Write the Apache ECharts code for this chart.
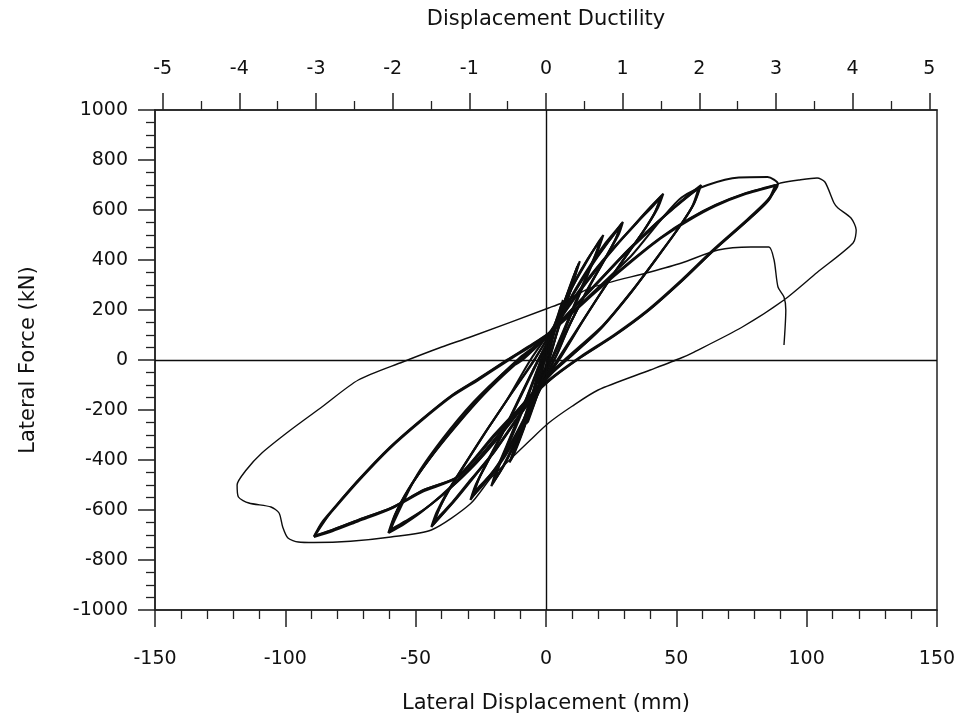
<!DOCTYPE html>
<html><head><meta charset="utf-8">
<script src="https://cdn.jsdelivr.net/npm/echarts@6/dist/echarts.min.js"></script>
<style>html,body{margin:0;padding:0;background:#fff}#c{width:969px;height:721px}</style>
</head><body><div id="c"></div>
<script>
// Tick label values
const ductilityTicks = [-5,-4,-3,-2,-1,0,1,2,3,4,5];
const ductilityMinor = [-4.5,-3.5,-2.5,-1.5,-0.5,0.5,1.5,2.5,3.5,4.5];

// Hysteresis cycles: [lateral displacement (mm), lateral force (kN)]
const cycleA1 = [[-7,-250],[-5,-190],[-2,-70],[0,20],[3,120],[6.5,240],[5,190],[2,70],[0,-20],[-3,-130],[-7,-250]];
const cycleA2 = [[-7.5,-255],[-5,-175],[-2.5,-80],[-1,0],[3,130],[6,225],[4.5,160],[1.5,40],[0,-30],[-4,-160],[-7.5,-255]];
const cycleB1 = [[-14,-410],[-11,-320],[-6,-170],[-1,-20],[0,10],[5,170],[10,320],[13,395],[10,300],[5,140],[1,0],[-4,-140],[-9,-290],[-12,-370],[-14,-410]];
const cycleB2 = [[-13.5,-400],[-10.5,-300],[-5,-130],[-2,-30],[1,50],[6,200],[10.5,330],[12.5,385],[9.5,280],[4,100],[0,-30],[-5,-170],[-10,-310],[-13.5,-400]];
const cycleB3 = [[-13,-390],[-10,-285],[-6,-160],[-3,-50],[0,35],[5,180],[9.5,300],[12,375],[9,265],[4.5,120],[1,-10],[-4,-150],[-9,-285],[-13,-390]];
const cycleC1 = [[-21,-505],[-19,-440],[-15,-340],[-9,-190],[-3,-40],[-2,0],[4,150],[10,290],[16,400],[20,470],[22,500],[20,440],[16,340],[10,190],[4,40],[2,0],[-4,-140],[-10,-290],[-15,-400],[-19,-470],[-21,-505]];
const cycleC2 = [[-20.5,-495],[-18,-420],[-14,-320],[-8,-165],[-3,-30],[0,40],[5,170],[11,310],[17,420],[21.5,490],[19,420],[15,320],[9,170],[3,20],[0,-50],[-5,-170],[-11,-310],[-16,-420],[-20.5,-495]];
const cycleC3 = [[-20,-485],[-17.5,-410],[-13,-305],[-7,-150],[-4,-60],[-1,25],[4,160],[10,295],[16,405],[21,480],[18.5,410],[14,300],[8,150],[2,0],[-1,-75],[-6,-195],[-12,-330],[-16.5,-425],[-20,-485]];
const cycleD1 = [[-29,-560],[-27,-500],[-23,-420],[-17,-300],[-10,-150],[-5,-40],[-3,0],[3,120],[10,260],[17,380],[23,470],[27,520],[29.5,552],[28,505],[24,430],[18,320],[10,160],[4,20],[3,0],[-3,-130],[-10,-270],[-17,-400],[-23,-480],[-27,-530],[-29,-560]];
const cycleD2 = [[-28.5,-550],[-26,-480],[-22,-395],[-16,-275],[-9,-125],[-4,-20],[0,60],[6,180],[12,290],[18,390],[24,475],[29,545],[27,490],[23,410],[17,300],[9,140],[5,40],[0,-70],[-6,-200],[-13,-340],[-20,-450],[-25,-510],[-28.5,-550]];
const cycleD3 = [[-28,-540],[-25.5,-470],[-21,-380],[-15,-260],[-8,-110],[-4,-25],[1,80],[7,200],[13,305],[19,400],[24.5,480],[28.5,535],[26.5,480],[22,395],[16,285],[8,120],[2,0],[-2,-90],[-8,-225],[-15,-360],[-21,-455],[-25.5,-505],[-28,-540]];
const cycleE1 = [[-44,-668],[-42,-610],[-38,-530],[-32,-430],[-24,-300],[-15,-160],[-6,0],[2,120],[10,240],[18,350],[26,450],[33,530],[39,600],[45,665],[43,610],[39,540],[33,450],[25,330],[15,170],[5,0],[-3,-120],[-12,-250],[-20,-370],[-28,-470],[-35,-560],[-40,-620],[-44,-668]];
const cycleE2 = [[-43.5,-660],[-41,-595],[-37,-515],[-31,-415],[-23,-285],[-14,-145],[-5,-10],[3,130],[11,250],[19,360],[27,460],[34,540],[40,610],[44.5,658],[42,595],[38,525],[32,435],[24,315],[14,155],[6,20],[-2,-105],[-11,-235],[-19,-355],[-27,-460],[-34,-550],[-39.5,-615],[-43.5,-660]];
const cycleE3 = [[-43,-652],[-40.5,-585],[-36,-500],[-30,-400],[-22,-270],[-13,-130],[-4,10],[4,140],[12,260],[20,370],[28,470],[35,550],[41,615],[44,650],[41.5,585],[37,510],[31,420],[23,300],[13,140],[4,-5],[-4,-130],[-13,-260],[-21,-380],[-29,-480],[-36,-570],[-40.5,-620],[-43,-652]];
const cycleF1 = [[-60.5,-692],[-58,-620],[-53,-520],[-45,-400],[-35,-270],[-24,-140],[-12,-20],[-9,0],[0,90],[10,200],[20,310],[30,420],[40,520],[48,600],[54,655],[59.5,700],[57,630],[52,545],[44,430],[34,290],[22,140],[7,0],[0,-70],[-10,-190],[-20,-320],[-30,-440],[-40,-540],[-48,-610],[-55,-660],[-60.5,-692]];
const cycleF2 = [[-60,-685],[-57.5,-610],[-52,-505],[-44,-385],[-34,-255],[-23,-125],[-11,-5],[-7,30],[1,105],[11,215],[21,325],[31,435],[41,535],[49,610],[54.5,655],[59,692],[56.5,620],[51,530],[43,415],[33,275],[21,125],[9,10],[2,-55],[-8,-175],[-18,-305],[-28,-425],[-38,-525],[-47,-600],[-54.5,-652],[-60,-685]];
const cycleF3 = [[-59.5,-678],[-57,-600],[-51,-490],[-43,-370],[-33,-240],[-22,-110],[-10,10],[-5,50],[2,115],[12,225],[22,335],[32,445],[42,545],[50,615],[55,658],[58.5,686],[56,612],[50,515],[42,400],[32,262],[20,115],[10,20],[3,-45],[-7,-165],[-17,-295],[-27,-415],[-37,-515],[-46,-592],[-54,-645],[-59.5,-678]];
const cycleG1 = [[-60,-685],[-50,-470],[-40,-320],[-28,-170],[-15,-40],[-5,40],[1,100],[10,190],[20,290],[33,420],[44,560],[52,650],[62,700],[74,730],[85,732],[89,705],[85,640],[77,560],[64,440],[52,320],[39,200],[26,100],[13,12],[1,-80],[-10,-190],[-20,-300],[-34,-467],[-47,-520],[-59.5,-592],[-72,-640],[-82,-680],[-89,-705]];
const cycleG2 = [[-89,-705],[-86,-650],[-81,-588],[-72,-480],[-60,-350],[-48,-240],[-36,-140],[-26,-75],[-15,0],[-5,65],[1,108],[10,190],[20,285],[33,400],[44,490],[55,565],[65,620],[76,665],[88,700],[85,635],[77,555],[64,435],[52,315],[39,195],[26,95],[13,8],[1,-85],[-10,-195],[-20,-305],[-34,-470],[-47,-525],[-59.5,-595],[-72,-645],[-82,-685],[-89,-708]];
const cycleG3 = [[-89,-708],[-86,-655],[-81,-592],[-72,-485],[-60,-355],[-48,-245],[-36,-145],[-26,-80],[-15,-5],[-5,60],[1,104],[10,186],[20,280],[33,395],[44,486],[55,560],[65,616],[76,662],[88.5,698],[85.5,640],[77.5,560],[64.5,440],[52.5,320],[39.5,200],[26.5,100],[13.5,12],[1.5,-80],[-9.5,-190],[-19.5,-300],[-33.5,-465],[-46.5,-518],[-59,-590],[-71.5,-638],[-81.5,-678],[-88.5,-702]];
const finalCycle = [[-88.5,-702],[-81,-588],[-72,-480],[-60,-350],[-48,-240],[-36,-140],[-26,-75],[-15,0],[-5,65],[1,108],[10,190],[20,285],[33,400],[44,490],[55,565],[65,620],[76,665],[88,700],[90,708],[97,720],[104,728],[107,712],[110.5,628],[112,608],[117,568],[119,520],[117.8,468],[104,350],[91.3,240],[75,130],[56.8,32],[51.8,8],[40,-40],[20,-120],[10,-185],[1,-252],[-6,-320],[-14,-400],[-21,-470],[-29,-575],[-44,-680],[-59.5,-708],[-75,-725],[-89,-730],[-95,-728],[-99,-712],[-101,-668],[-102.4,-612],[-105.5,-588],[-114,-572],[-118,-548],[-118.5,-500],[-115,-440],[-109,-372],[-98,-280],[-86,-188],[-72,-80],[-55,-8],[-40,52],[-29,92],[1,208],[6,228],[17,288],[40,352],[52,388],[66,440],[78.6,452],[85.5,452],[87.5,400],[89,292],[91.3,252],[92,200],[91.3,60]];

const loops = [cycleA1,cycleA2,cycleB1,cycleB2,cycleB3,cycleC1,cycleC2,cycleC3,cycleD1,cycleD2,cycleD3,cycleE1,cycleE2,cycleE3,cycleF1,cycleF2,cycleF3,cycleG1,cycleG2,cycleG3];

const INK = '#0d0d0d';
const labelFont = 'DejaVu Sans';
const series = loops.map(d => ({
  type:'line', data:d, showSymbol:false, smooth:0.25, silent:true,
  lineStyle:{color:INK, width:2.1}
}));
series.push({type:'line', data:finalCycle, showSymbol:false, smooth:0.25, silent:true, lineStyle:{color:INK, width:1.4}});
series[0].markLine = {
  silent:true, symbol:['none','none'], label:{show:false},
  lineStyle:{color:INK, type:'solid', width:1.4},
  data:[{xAxis:0},{yAxis:0}]
};

const plain = v => String(v);
const chart = echarts.init(document.getElementById('c'));
chart.setOption({
  animation:false,
  backgroundColor:'#fff',
  grid:{left:155, right:32, top:110, bottom:111, show:true, borderColor:'#222', borderWidth:1.5, backgroundColor:'transparent'},
  xAxis:[
    {type:'value', position:'bottom', min:-150, max:150, interval:50,
     axisLine:{onZero:false, lineStyle:{color:'#222', width:1.5}},
     axisTick:{length:17, lineStyle:{color:'#222', width:1.5}},
     minorTick:{show:true, splitNumber:5, length:9, lineStyle:{color:'#222', width:1.3}},
     splitLine:{show:false},
     axisLabel:{margin:40, fontSize:19, color:'#111', fontFamily:labelFont, formatter:plain},
     name:'Lateral Displacement (mm)', nameLocation:'middle', nameGap:83,
     nameTextStyle:{fontSize:21, color:'#111', fontFamily:labelFont}},
    {type:'value', position:'top', min:-5.1, max:5.1,
     axisLine:{onZero:false, lineStyle:{color:'#222', width:1.5}},
     axisTick:{customValues:ductilityTicks, length:17, lineStyle:{color:'#222', width:1.5}},
     splitLine:{show:false},
     axisLabel:{customValues:ductilityTicks, margin:31, fontSize:19, color:'#111', fontFamily:labelFont, formatter:plain},
     name:'Displacement Ductility', nameLocation:'middle', nameGap:80,
     nameTextStyle:{fontSize:21, color:'#111', fontFamily:labelFont}},
    {type:'value', position:'top', min:-5.1, max:5.1,
     axisLine:{show:false, onZero:false},
     axisTick:{customValues:ductilityMinor, length:9, lineStyle:{color:'#222', width:1.3}},
     splitLine:{show:false}, axisLabel:{show:false}}
  ],
  yAxis:[
    {type:'value', position:'left', min:-1000, max:1000, interval:200,
     axisLine:{onZero:false, lineStyle:{color:'#222', width:1.5}},
     axisTick:{length:17, lineStyle:{color:'#222', width:1.5}},
     minorTick:{show:true, splitNumber:4, length:9, lineStyle:{color:'#222', width:1.3}},
     splitLine:{show:false},
     axisLabel:{margin:27, fontSize:19, color:'#111', fontFamily:labelFont, formatter:plain},
     name:'Lateral Force (kN)', nameLocation:'middle', nameGap:116, nameRotate:90,
     nameTextStyle:{fontSize:21, color:'#111', fontFamily:labelFont}}
  ],
  series:series
});
</script></body></html>
